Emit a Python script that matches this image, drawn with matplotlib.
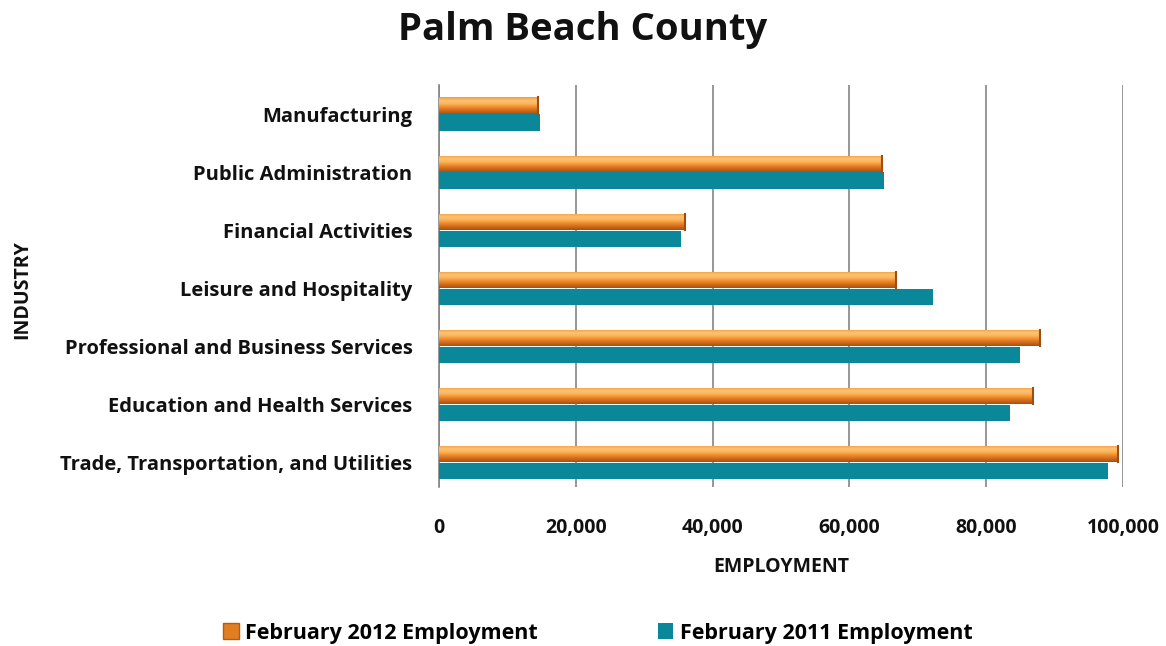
import numpy as np
import matplotlib.pyplot as plt
from matplotlib.colors import LinearSegmentedColormap
from matplotlib.patches import Patch

industries = [
    "Trade, Transportation, and Utilities",
    "Education and Health Services",
    "Professional and Business Services",
    "Leisure and Hospitality",
    "Financial Activities",
    "Public Administration",
    "Manufacturing",
]
emp_2012 = [99300, 86900, 87900, 66800, 35900, 64700, 14500]
emp_2011 = [97800, 83500, 84900, 72200, 35400, 65000, 14800]
x_ticks = [0, 20000, 40000, 60000, 80000, 100000]
series_names = ["February 2012 Employment", "February 2011 Employment"]

FONT = ["Open Sans", "DejaVu Sans"]
plt.rcParams["font.family"] = FONT
TEXT = "#111111"
TEAL = "#0A8799"
ORANGE = "#EE8A26"

fig = plt.figure(figsize=(11.66, 6.46), dpi=100)
ax = fig.add_axes([439 / 1166, 1 - 487 / 646, 684 / 1166, 402 / 646])

y = np.arange(len(industries))
h = 0.28
off = 0.145

bars_2012 = ax.barh(y + off, emp_2012, height=h, color=ORANGE, zorder=3)
bars_2011 = ax.barh(y - off, emp_2011, height=h, color=TEAL, zorder=3)

# cylinder-style shading on the orange bars
orange_cmap = LinearSegmentedColormap.from_list(
    "cyl", ["#A8500F", "#D06A1A", "#F08A2A", "#FBB55C", "#FDC272", "#F49A3C"])
grad = np.linspace(0, 1, 64).reshape(-1, 1)
for b in bars_2012:
    x0, y0 = b.get_x(), b.get_y()
    w, hh = b.get_width(), b.get_height()
    im = ax.imshow(grad, cmap=orange_cmap, aspect="auto", origin="lower",
                   extent=[x0, x0 + w, y0, y0 + hh], zorder=4, interpolation="bilinear")
    im.set_clip_path(b)
    ax.plot([x0 + w, x0 + w], [y0, y0 + hh], color="#9E4E12", lw=1.5, zorder=5)

ax.set_xlim(0, 100000)
ax.set_ylim(-0.42, len(industries) - 0.5)
ax.set_xticks(x_ticks)
ax.set_xticklabels([f"{v:,}" for v in x_ticks], fontsize=14, fontweight="bold", color=TEXT)
ax.set_yticks(y)
ax.set_yticklabels(industries, fontsize=14.5, fontweight="bold", color=TEXT)
ax.tick_params(axis="x", length=0, pad=22)
ax.tick_params(axis="y", length=0, pad=19)

ax.grid(axis="x", color="#858585", lw=1.2, zorder=0)
ax.set_axisbelow(True)
for s in ["top", "right", "bottom"]:
    ax.spines[s].set_visible(False)
ax.spines["left"].set_color("#858585")
ax.spines["left"].set_linewidth(1.2)

ax.set_xlabel("EMPLOYMENT", fontsize=14, fontweight="bold", color=TEXT, labelpad=14)
fig.text(22 / 1166, 1 - 290 / 646, "INDUSTRY", rotation=90, fontsize=14,
         fontweight="bold", color=TEXT, ha="center", va="center")

fig.text(583 / 1166, 1 - 30 / 646, "Palm Beach County", fontsize=27.5,
         fontweight="bold", color=TEXT, ha="center", va="center")

handles = [Patch(facecolor="#E07F22", edgecolor="#B85A14"), Patch(facecolor=TEAL)]
fig.legend(handles, series_names, loc="center", bbox_to_anchor=(598 / 1166, 1 - 633 / 646),
           ncol=2, frameon=False, prop={"weight": "bold", "size": 15.5},
           handlelength=0.7, handleheight=0.7, handletextpad=0.3, columnspacing=5.6)

fig.savefig("out.png", dpi=100, facecolor="white")
